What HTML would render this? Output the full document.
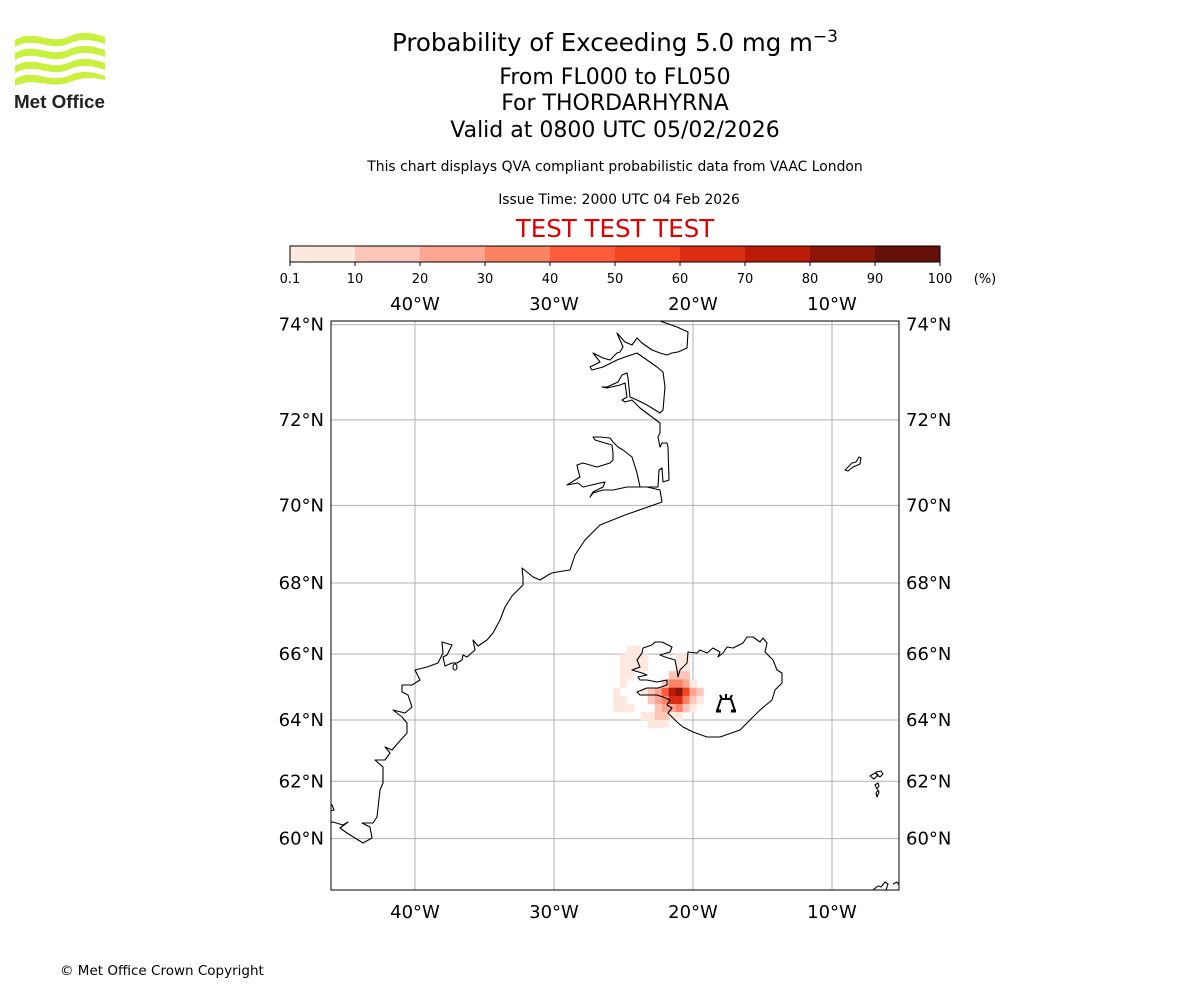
<!DOCTYPE html>
<html><head><meta charset="utf-8"><style>
body{margin:0;background:#fff;font-family:"Liberation Sans","DejaVu Sans",sans-serif;}
svg text{font-family:"DejaVu Sans","Liberation Sans",sans-serif;}
</style></head><body>
<svg id="chart" width="1200" height="1000" viewBox="0 0 1200 1000" xmlns="http://www.w3.org/2000/svg">
<rect width="1200" height="1000" fill="#fff"/>
<g>
<path d="M15,40 C35,28 50,46 70,36 C85,30 95,34 105,37 L105,44 C95,41 85,37 70,43 C50,53 35,35 15,47Z" fill="#c8f03c"/>
<path d="M15,53 C35,41 50,59 70,49 C85,43 95,47 105,50 L105,57 C95,54 85,50 70,56 C50,66 35,48 15,60Z" fill="#c8f03c"/>
<path d="M15,66 C35,54 50,72 70,62 C85,56 95,60 105,63 L105,70 C95,67 85,63 70,69 C50,79 35,61 15,73Z" fill="#c8f03c"/>
<path d="M15,79 C35,67 50,85 70,75 C85,69 95,73 105,76 L105,80 C95,78 85,76 70,82 C50,90 35,76 15,86Z" fill="#c8f03c"/>
<text x="14" y="108" font-size="18" font-weight="bold" fill="#222" style="font-family:'Liberation Sans',sans-serif" textLength="91" lengthAdjust="spacingAndGlyphs">Met Office</text>
</g>
<g text-anchor="middle" fill="#000">
<text x="615" y="51" font-size="24.5">Probability of Exceeding 5.0 mg m<tspan font-size="17" dy="-9">−3</tspan></text>
<text x="615" y="84" font-size="22">From FL000 to FL050</text>
<text x="615" y="110" font-size="22">For THORDARHYRNA</text>
<text x="615" y="137" font-size="22">Valid at 0800 UTC 05/02/2026</text>
<text x="615" y="171" font-size="13.9">This chart displays QVA compliant probabilistic data from VAAC London</text>
<text x="619" y="204" font-size="13.9">Issue Time: 2000 UTC 04 Feb 2026</text>
<text x="615" y="237" font-size="24.5" fill="#e00000">TEST TEST TEST</text>
</g>
<g id="cbar"></g>
<defs><clipPath id="mapclip"><rect x="331" y="321" width="568" height="569"/></clipPath></defs>
<g id="grid"></g>
<g id="cells" clip-path="url(#mapclip)"></g>
<g clip-path="url(#mapclip)" fill="none" stroke="#000" stroke-width="1.1" stroke-linejoin="round">
<polyline points="660,321 677,327 688,332 687,348 678,352 672,353 667,355 660,353 652,350 642,343 637,338 632,345 625,342 617,333 623,347 620,352 617,353 610,360 603,358 593,353 600,362 590,367 592,370 603,367 617,360 625,357 637,353 647,360 657,367 663,372 665,387 663,410 660,413 647,405 637,400 630,397 628,378 627,373 622,375 618,382 607,387 602,387 607,388 620,385 625,383 627,397 622,400 625,402 632,400 640,408 652,417 660,423 660,433 658,437 660,447 662,443 667,443 668,447 669,480 663,482 662,468 659,470 658,487 640,487 637,473 632,457 623,450 618,447 613,442 610,438 600,437 593,437 595,440 605,443 612,445 613,453 613,460 610,463 597,467 583,463 577,465 578,470 580,477 567,485 578,483 583,487 600,483 605,482 603,487 593,492 590,497 593,493 603,490 613,490 627,487 647,487 660,490 662,502 645,508 625,515 600,525 585,540 575,555 570,570 557,572 552,573 548,575 545,577 540,580 533,577 527,572 522,568 523,577 523,585 512,596 505,607 500,620 493,633 487,640 478,646 473,640 475,650 467,657 463,655 462,660 457,663 452,663 445,666 443,657 447,655 452,645 442,642 443,653 438,663 427,667 415,670 420,680 412,685 402,685 402,692 408,695 412,707 405,713 393,710 402,717 407,723 407,733 398,743 392,750 385,747 390,753 385,760 375,760 383,767 383,783 380,790 377,817 373,823 362,823 370,827 372,838 363,843 355,838 347,833 340,828 348,822 343,825 333,822 325,824"/>
<ellipse cx="455" cy="667" rx="2" ry="3"/>
<polyline points="325,800 332,805 334,810 325,812"/>
<polygon points="632,670 640,667 637,660 642,653 643,648 652,645 655,642 662,642 672,647 670,652 660,655 665,657 675,660 677,670 678,677 680,670 687,663 688,652 697,653 700,650 707,653 713,648 720,652 718,657 723,653 727,647 733,648 743,643 747,637 753,637 760,642 763,638 767,643 765,652 773,660 777,670 782,673 782,683 775,690 772,700 760,710 750,720 740,730 720,737 707,737 693,732 683,727 677,722 672,717 668,713 672,708 667,705 670,700 663,697 657,695 650,695 640,695 637,692 647,688 658,688 667,685 667,680 657,682 647,680 640,680 638,677 647,675 642,673"/>
<polygon points="845,470 852,463 856,462 859,457 861,458 860,464 853,467 848,471"/>
<path d="M870,776 l5,-3 3,2 -4,4z M876,772 l5,-1 2,3 -3,3 -3,-2z M875,785 l3,-2 1,3 -2,3z M876,793 l2,-3 1,2 -2,5z"/>
<path d="M873,890 l5,-4 3,1 4,-5 3,2 -2,6 M893,884 l4,-2 2,3"/>
</g>
<g transform="translate(726,704)" fill="none" stroke="#000" stroke-width="2">
<path d="M-6,-9 l2,4 M6,-9 l-2,4 M0,-10 v4 M-5,-5 h10 M-5,-5 l-4,12 M5,-5 l4,12"/>
<path d="M-10,7 h5 M5,7 h5" stroke-width="3"/>
</g>
<rect x="331" y="321" width="568" height="569" fill="none" stroke="#000" stroke-width="1"/>
<g id="axes" font-size="18" fill="#000"></g>
<text x="60" y="975" font-size="13.5">© Met Office Crown Copyright</text>
</svg>
<script>
var cbBounds=[0.1,10,20,30,40,50,60,70,80,90,100];
var cbColors=["#fee8e0","#fcc5b8","#fca590","#fc8264","#fc5b3c","#f3451f","#db2e12","#bb1b08","#8c1505","#65100a"];
var lonTicks=[-40,-30,-20,-10];
var latTicks=[74,72,70,68,66,64,62,60];
var cellLons=[-24.5,-24,-25,-24.5,-24,-23.5,-21,-20.5,-25,-24.5,-24,-23.5,-21,-20.5,-25,-24.5,-21.5,-21,-20.5,-25,-22,-21.5,-21,-20.5,-20,-25.5,-23.5,-23,-22.5,-22,-21.5,-21,-20.5,-20,-19.5,-25.5,-25,-23,-22.5,-22,-21.5,-21,-20.5,-20,-19.5,-25.5,-25,-24.5,-22.5,-22,-21.5,-21,-20.5,-20,-23.5,-23,-22.5,-22,-21.5,-21,-23,-22.5,-22];
var cellLats=[66.125,66.125,65.875,65.875,65.875,65.875,65.875,65.875,65.625,65.625,65.625,65.625,65.625,65.625,65.375,65.375,65.375,65.375,65.375,65.125,65.125,65.125,65.125,65.125,65.125,64.875,64.875,64.875,64.875,64.875,64.875,64.875,64.875,64.875,64.875,64.625,64.625,64.625,64.625,64.625,64.625,64.625,64.625,64.625,64.625,64.375,64.375,64.375,64.375,64.375,64.375,64.375,64.375,64.375,64.125,64.125,64.125,64.125,64.125,64.125,63.875,63.875,63.875];
var cellValues=[5,5,3,5,5,3,5,5,8,8,8,5,8,8,5,5,12,15,12,5,15,35,35,22,8,5,5,12,25,45,75,88,55,25,12,5,5,12,25,35,60,65,35,15,8,8,8,5,15,25,25,30,18,8,5,8,12,12,8,8,5,5,5];
var NS="http://www.w3.org/2000/svg";
var PX=13.9, R=PX*180/Math.PI;
function merc(l){return Math.log(Math.tan(Math.PI/4+l*Math.PI/360));}
function xOf(lon){return 693+(lon+20)*PX;}
function yOf(lat){return 720-R*(merc(lat)-merc(64));}
function cbX(v){var i=cbBounds.findIndex(function(b){return b>=v;});if(i<=0)return 290;var a=cbBounds[i-1],b=cbBounds[i];return 290+65*(i-1+(v-a)/(b-a));}
function colorFor(v){for(var i=0;i<cbColors.length;i++){if(v<cbBounds[i+1])return cbColors[i];}return cbColors[cbColors.length-1];}
function mk(tag,attrs,parent){var e=document.createElementNS(NS,tag);for(var k in attrs)e.setAttribute(k,attrs[k]);parent.appendChild(e);return e;}
var cb=document.getElementById('cbar');
for(var i=0;i<cbColors.length;i++){
 var r=mk('rect',{x:cbX(cbBounds[i]),y:246,width:cbX(cbBounds[i+1])-cbX(cbBounds[i]),height:16,fill:cbColors[i]},cb);
 
 
}
mk('rect',{x:290,y:246,width:650,height:16,fill:'none',stroke:'#000','stroke-width':1},cb);
for(var i=0;i<cbBounds.length;i++){
 var x=cbX(cbBounds[i]);
 mk('line',{x1:x,x2:x,y1:262,y2:266,stroke:'#000'},cb);
 var t=mk('text',{x:x,y:283,'font-size':13,'text-anchor':'middle'},cb);t.textContent=String(cbBounds[i]);
 
 
}
var u=mk('text',{x:985,y:283,'font-size':13,'text-anchor':'middle'},cb);u.textContent='(%)';


var g=document.getElementById('grid');
lonTicks.forEach(function(l){var x=xOf(l);mk('line',{x1:x,x2:x,y1:321,y2:890,stroke:'#b0b0b0','stroke-width':1},g);});
latTicks.forEach(function(l){var y=yOf(l);mk('line',{x1:331,x2:899,y1:y,y2:y,stroke:'#b0b0b0','stroke-width':1},g);});
var cg=document.getElementById('cells');
for(var i=0;i<cellValues.length;i++){
 var x0=xOf(cellLons[i]-0.25),x1=xOf(cellLons[i]+0.25),y0=yOf(cellLats[i]+0.125),y1=yOf(cellLats[i]-0.125);
 var c=mk('rect',{x:x0,y:y0,width:x1-x0+0.3,height:y1-y0+0.3,fill:colorFor(cellValues[i])},cg);
 
 
}
var ax=document.getElementById('axes');
lonTicks.forEach(function(l){
 [304,912].forEach(function(y){var t=mk('text',{x:xOf(l),y:y+6,'text-anchor':'middle'},ax);t.textContent=Math.abs(l)+'°W';
 
 });
});
latTicks.forEach(function(l){
 var y=yOf(l)+6;
 var a=mk('text',{x:324,y:y,'text-anchor':'end'},ax);a.textContent=l+'°N';
 
 
 var b=mk('text',{x:906,y:y,'text-anchor':'start'},ax);b.textContent=l+'°N';
 
 
});
</script>
</body></html>
